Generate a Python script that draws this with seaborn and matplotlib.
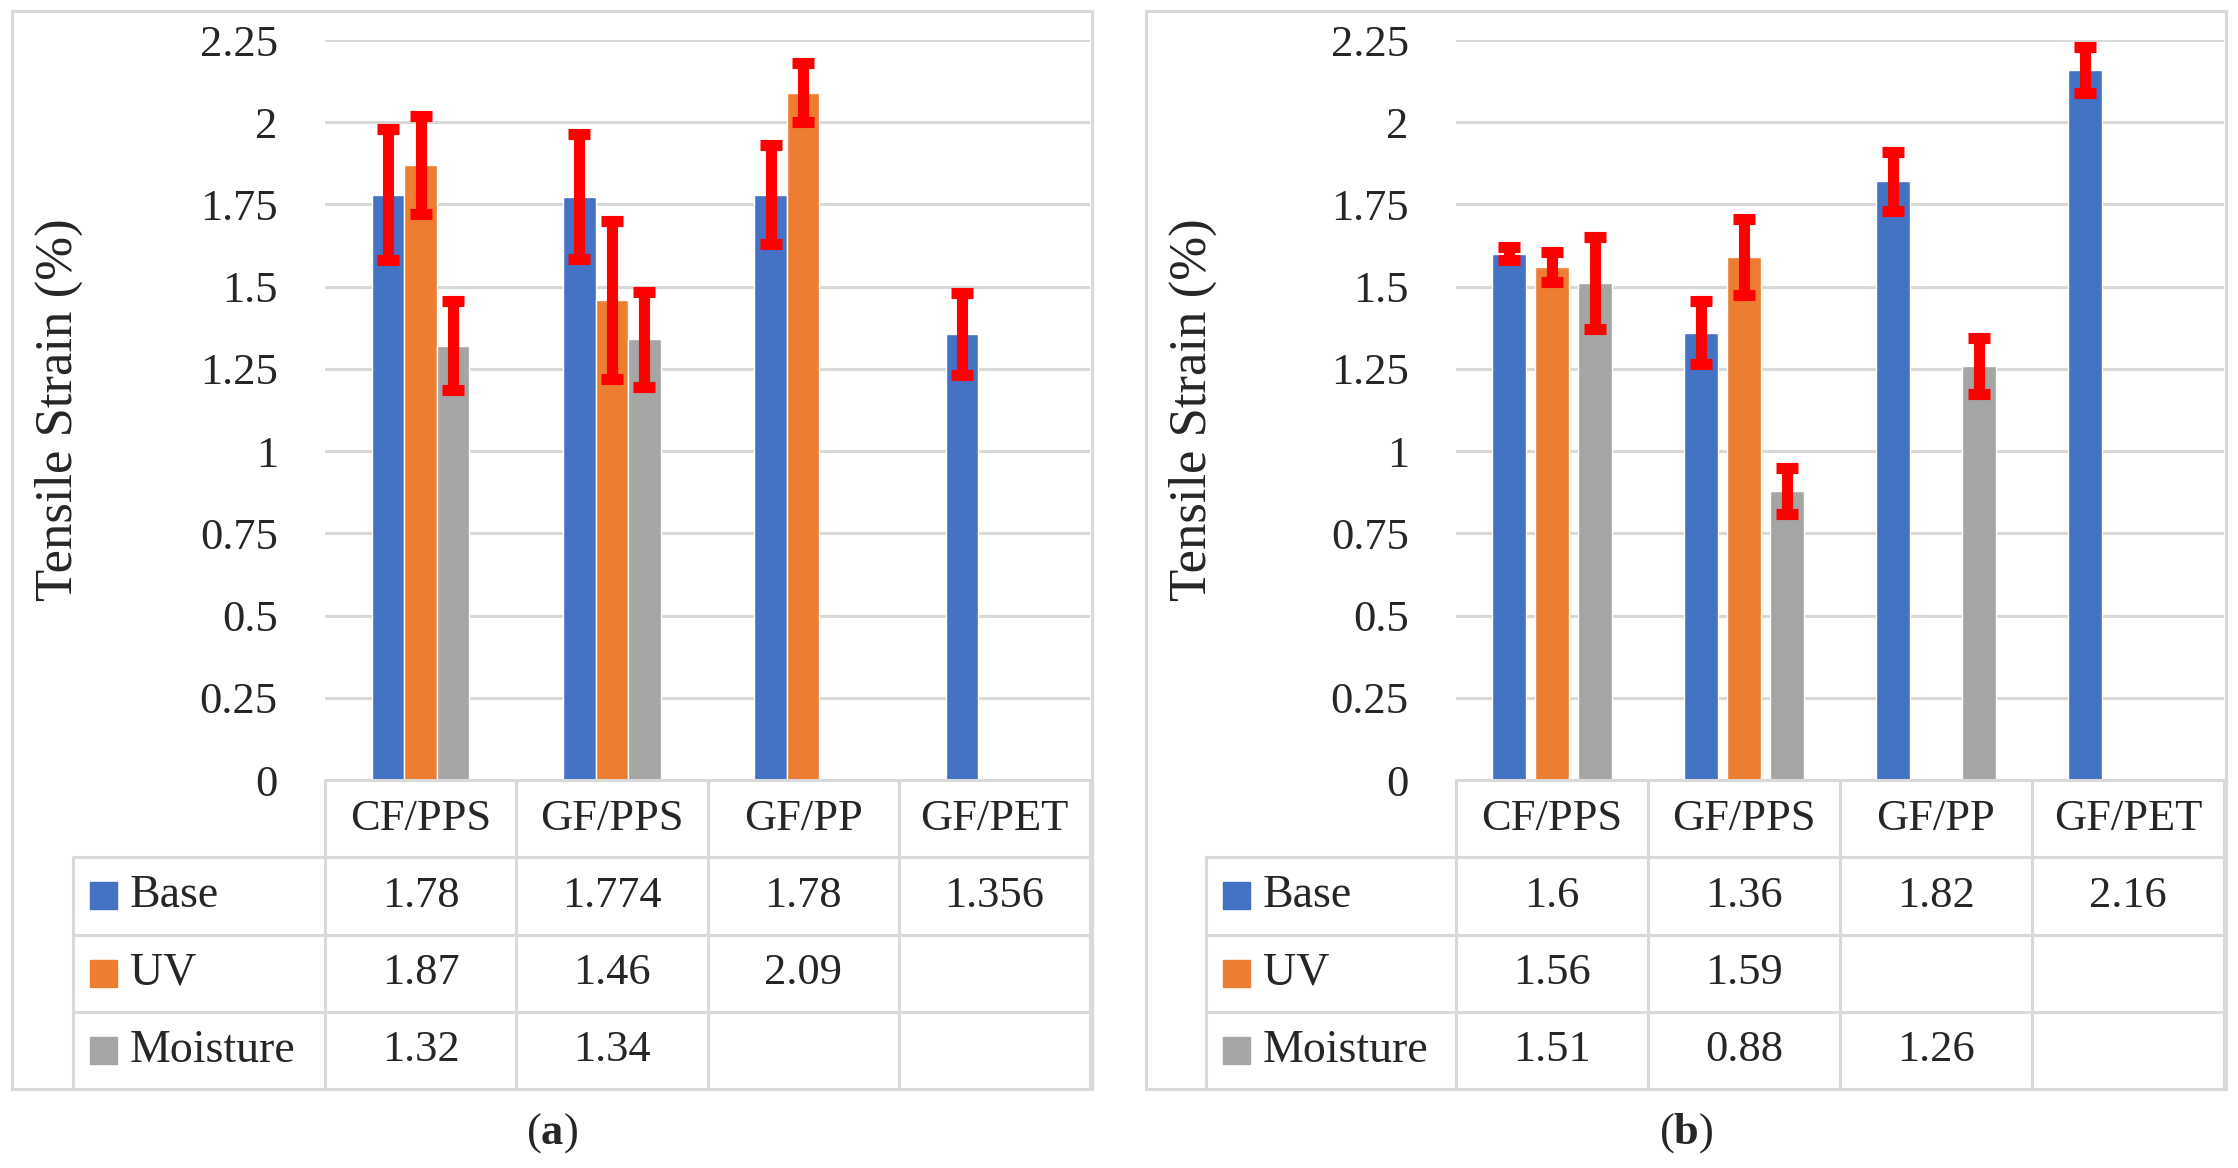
import pandas as pd
import matplotlib.pyplot as plt
import seaborn as sns
from matplotlib.patches import Rectangle

# Dados
categories = ['CF/PPS', 'GF/PPS', 'GF/PP', 'GF/PET']
series = ['Base', 'UV', 'Moisture']
colors = ['#4472C4', '#ED7D31', '#A5A5A5']

# painel (a)
base_a = [1.78, 1.774, 1.78, 1.356]
uv_a = [1.87, 1.46, 2.09, None]
moist_a = [1.32, 1.34, None, None]
err_base_a = [0.20, 0.19, 0.15, 0.125]
err_uv_a = [0.15, 0.24, 0.09, None]
err_moist_a = [0.135, 0.145, None, None]

# painel (b)
base_b = [1.6, 1.36, 1.82, 2.16]
uv_b = [1.56, 1.59, None, None]
moist_b = [1.51, 0.88, 1.26, None]
err_base_b = [0.02, 0.095, 0.09, 0.07]
err_uv_b = [0.045, 0.115, None, None]
err_moist_b = [0.14, 0.07, 0.085, None]

yticks = [0, 0.25, 0.5, 0.75, 1, 1.25, 1.5, 1.75, 2, 2.25]

W, H = 2238, 1168
GRID = '#D9D9D9'
LW = 2.2

sns.set_theme(style='white')
plt.rcParams['font.family'] = ['Liberation Serif', 'DejaVu Serif']
plt.rcParams['mathtext.fontset'] = 'custom'
plt.rcParams['mathtext.rm'] = 'Liberation Serif'
plt.rcParams['mathtext.bf'] = 'Liberation Serif:bold'


def fx(x):
    return x / W


def fy(y):
    return 1 - y / H


def make_df(vals, errs):
    rows = []
    for s, v_list, e_list in zip(series, vals, errs):
        for c, v, e in zip(categories, v_list, e_list):
            if v is not None:
                rows.append({'cat': c, 'series': s, 'value': v, 'err': e})
    return pd.DataFrame(rows)


def draw_panel(fig, box, plot_left, plot_right, label_left, vals, errs, width, gap, letter):
    # moldura do painel
    bx0, by0, bx1, by1 = box
    fig.add_artist(Rectangle((fx(bx0), fy(by1)), fx(bx1 - bx0), (by1 - by0) / H,
                             transform=fig.transFigure, fill=False, ec=GRID, lw=LW))

    top, zero, bottom = 40, 780, 1089
    ax = fig.add_axes([fx(plot_left), fy(zero), fx(plot_right - plot_left), (zero - top) / H])
    df = make_df(vals, errs)
    sns.barplot(data=df, x='cat', y='value', hue='series', order=categories,
                hue_order=series, palette=colors, width=width, gap=gap,
                errorbar=None, saturation=1, legend=False, ax=ax, zorder=2)

    # barras de erro
    for s, cont in zip(series, ax.containers):
        sub = df[df['series'] == s]
        for patch in cont.patches:
            xc = patch.get_x() + patch.get_width() / 2
            cat = categories[int(round(xc))]
            e = sub.loc[sub['cat'] == cat, 'err'].iloc[0]
            ax.errorbar(xc, patch.get_height(), yerr=e, fmt='none', ecolor='#FF0000',
                        elinewidth=8, capsize=8, capthick=8, zorder=3)

    ax.set_xlim(-0.5, 3.5)
    ax.set_ylim(0, 2.25)
    ax.set_yticks(yticks)
    ax.set_yticklabels([f'{t:g}' for t in yticks], fontsize=32)
    ax.tick_params(axis='y', length=0, pad=34)
    ax.set_xticks([])
    ax.set_xlabel('')
    ax.set_ylabel('')
    ax.grid(axis='y', color=GRID, lw=LW, zorder=0)
    ax.set_axisbelow(True)
    for sp in ax.spines.values():
        sp.set_visible(False)

    fig.text(fx(bx0 + 47), fy((top + zero) / 2), 'Tensile Strain (%)',
             rotation=90, ha='center', va='center', fontsize=38)

    # tabela de dados
    tab = fig.add_axes([fx(plot_left), fy(bottom), fx(plot_right - plot_left), (bottom - zero) / H])
    tab.set_xlim(-0.5, 3.5)
    tab.set_ylim(4, 0)
    tab.axis('off')
    unit = (plot_right - plot_left) / 4
    xl = -0.5 - (plot_left - label_left) / unit
    kw = dict(color=GRID, lw=LW, clip_on=False)
    tab.plot([-0.5, 3.5], [0, 0], **kw)
    for r in [1, 2, 3, 4]:
        tab.plot([xl, 3.5], [r, r], **kw)
    for c in [-0.5, 0.5, 1.5, 2.5, 3.5]:
        tab.plot([c, c], [0, 4], **kw)
    tab.plot([xl, xl], [1, 4], **kw)

    for i, c in enumerate(categories):
        tab.text(i, 0.5, c, ha='center', va='center', fontsize=32)
    sq_w = 27 / unit
    sq_h = 27 / ((bottom - zero) / 4)
    for r, (s, col, v_list) in enumerate(zip(series, colors, vals)):
        yc = r + 1.5
        tab.add_patch(Rectangle((xl + 17 / unit, yc - sq_h / 2), sq_w, sq_h,
                                color=col, clip_on=False))
        tab.text(xl + 57 / unit, yc, s, ha='left', va='center', fontsize=33)
        for i, v in enumerate(v_list):
            if v is not None:
                tab.text(i, yc, f'{v:g}', ha='center', va='center', fontsize=32)

    fig.text(fx((bx0 + bx1) / 2), fy(1133), r'$\mathrm{(}\mathbf{' + letter + r'}\mathrm{)}$',
             ha='center', va='center', fontsize=32)


fig = plt.figure(figsize=(W / 100, H / 100), dpi=100)
draw_panel(fig, (12, 11, 1092, 1089), 325, 1090, 73,
           [base_a, uv_a, moist_a], [err_base_a, err_uv_a, err_moist_a], 0.51, 0, 'a')
draw_panel(fig, (1146, 11, 2226, 1089), 1456, 2224, 1206,
           [base_b, uv_b, moist_b], [err_base_b, err_uv_b, err_moist_b], 0.67, 0.22, 'b')

fig.savefig('out.png', dpi=100, facecolor='white')
